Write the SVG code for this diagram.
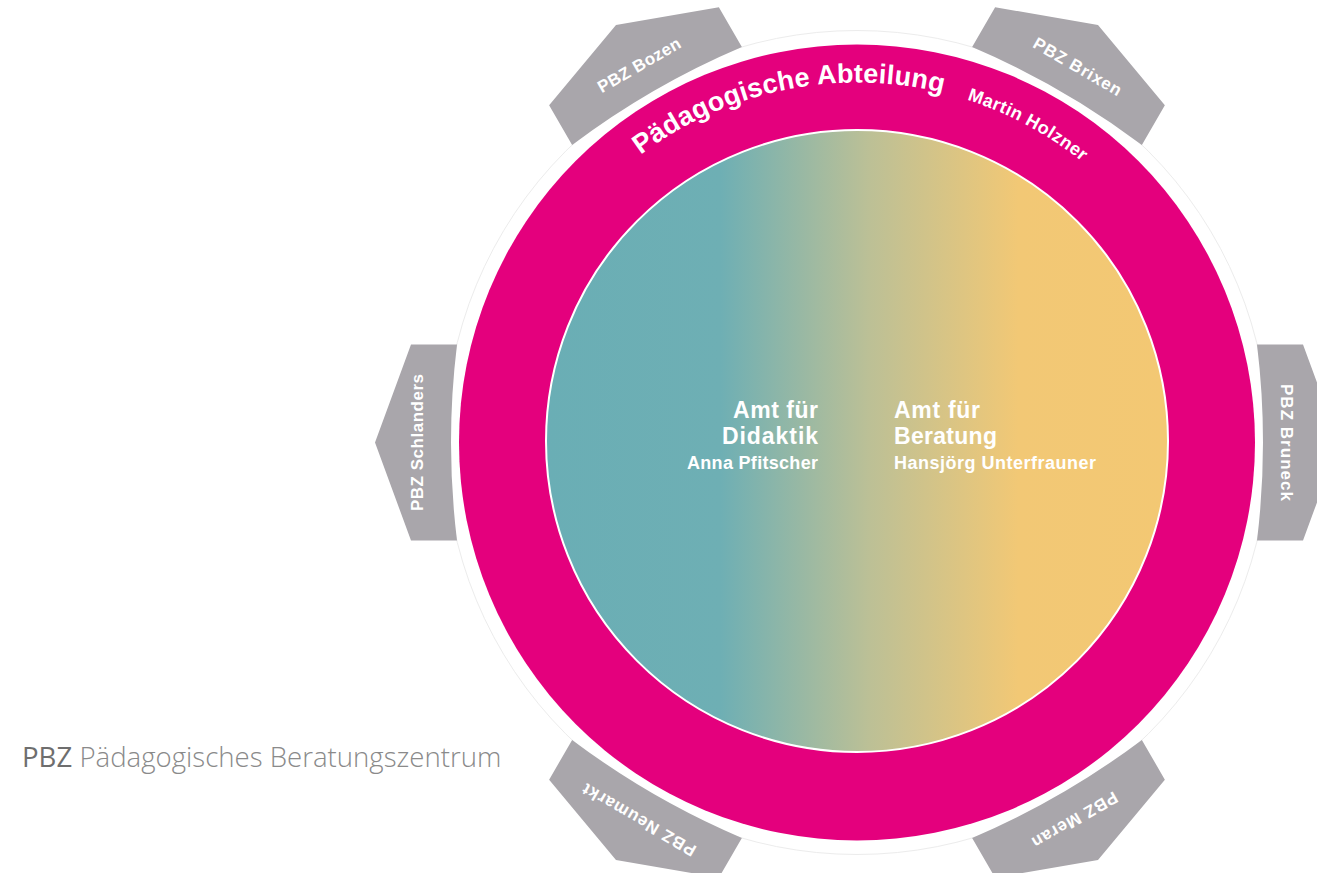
<svg xmlns="http://www.w3.org/2000/svg" width="1317" height="873" viewBox="0 0 1317 873">
<defs>
<linearGradient id="core" x1="546" y1="0" x2="1168" y2="0" gradientUnits="userSpaceOnUse">
<stop offset="0" stop-color="#6aaeb5"/>
<stop offset="0.28" stop-color="#6eafb4"/>
<stop offset="0.52" stop-color="#bcc096"/>
<stop offset="0.76" stop-color="#f2c875"/>
<stop offset="1" stop-color="#f3c873"/>
</linearGradient>
<path id="arc" d="M 497,442.5 A 360,360 0 0 1 1217,442.5"/>
<path id="tabshape" d="M 0,-482 L 98,-446 L 98,-400 Q 0,-412 -98,-400 L -98,-446 Z"/>
<style>
.tab{fill:#a9a6ab}
.tabtxt{font-family:"Liberation Sans",Arial,sans-serif;font-weight:bold;font-size:17px;fill:#ffffff;text-anchor:middle}
.ring{font-family:"Liberation Sans",Arial,sans-serif;font-weight:bold;fill:#ffffff}
.core{font-family:"Liberation Sans",Arial,sans-serif;font-weight:bold;fill:#ffffff}
.legend{font-family:"Open Sans","Liberation Sans",sans-serif;font-size:27.6px}
</style>
</defs>
<rect width="1317" height="873" fill="#ffffff"/>
<circle cx="857" cy="442.5" r="412" fill="none" stroke="#ececec" stroke-width="1"/>
<g id="tab-bozen" transform="translate(857 442.5) rotate(-30)">
<use href="#tabshape" class="tab"/>
<text class="tabtxt" x="0" y="-430" textLength="93" lengthAdjust="spacing">PBZ Bozen</text>
</g>
<g id="tab-brixen" transform="translate(857 442.5) rotate(30)">
<use href="#tabshape" class="tab"/>
<text class="tabtxt" x="3" y="-430" textLength="99" lengthAdjust="spacing">PBZ Brixen</text>
</g>
<g id="tab-bruneck" transform="translate(857 442.5) rotate(90)">
<use href="#tabshape" class="tab"/>
<text class="tabtxt" x="0" y="-424" textLength="117" lengthAdjust="spacing">PBZ Bruneck</text>
</g>
<g id="tab-meran" transform="translate(857 442.5) rotate(150)">
<use href="#tabshape" class="tab"/>
<text class="tabtxt" x="0" y="-430" textLength="96" lengthAdjust="spacing">PBZ Meran</text>
</g>
<g id="tab-neumarkt" transform="translate(857 442.5) rotate(210)">
<use href="#tabshape" class="tab"/>
<text class="tabtxt" x="0" y="-430" textLength="128" lengthAdjust="spacing">PBZ Neumarkt</text>
</g>
<g id="tab-schlanders" transform="translate(857 442.5) rotate(-90)">
<use href="#tabshape" class="tab"/>
<text class="tabtxt" x="0" y="-434" textLength="137" lengthAdjust="spacing">PBZ Schlanders</text>
</g>
<g id="ring">
<circle cx="857" cy="442.5" r="398" fill="#e4007d"/>
<text class="ring" font-size="27"><textPath href="#arc" startOffset="333" textLength="319" lengthAdjust="spacing">Pädagogische Abteilung</textPath></text>
<text class="ring" font-size="18"><textPath href="#arc" startOffset="677" textLength="131" lengthAdjust="spacing">Martin Holzner</textPath></text>
</g>
<g id="core-circle">
<circle cx="857" cy="441" r="311" fill="url(#core)" stroke="#ffffff" stroke-width="2"/>
</g>
<g id="amt-didaktik">
<text class="core" font-size="23" x="818" y="418" text-anchor="end" textLength="85" lengthAdjust="spacing">Amt für</text>
<text class="core" font-size="23" x="818" y="444" text-anchor="end" textLength="96" lengthAdjust="spacing">Didaktik</text>
<text class="core" font-size="18" x="818" y="469" text-anchor="end" textLength="131" lengthAdjust="spacing">Anna Pfitscher</text>
</g>
<g id="amt-beratung">
<text class="core" font-size="23" x="894" y="418" textLength="86" lengthAdjust="spacing">Amt für</text>
<text class="core" font-size="23" x="894" y="444" textLength="103" lengthAdjust="spacing">Beratung</text>
<text class="core" font-size="18" x="894" y="469" textLength="202" lengthAdjust="spacing">Hansjörg Unterfrauner</text>
</g>
<g id="connectors"/>
<g id="legend">
<text class="legend" x="22" y="767"><tspan fill="#6e6e6e">PBZ</tspan><tspan fill="#8a8a8a" font-weight="300"> Pädagogisches Beratungszentrum</tspan></text>
</g>
</svg>
